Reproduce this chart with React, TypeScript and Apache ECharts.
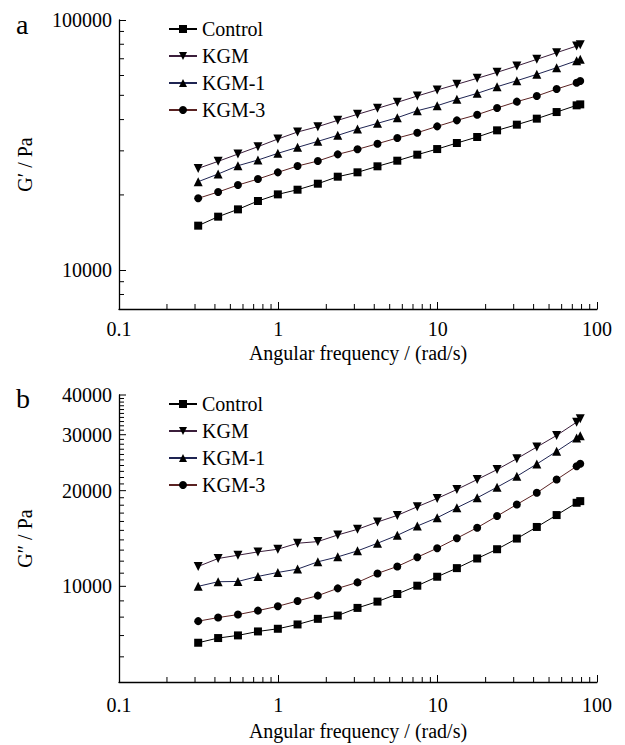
import React, { useEffect, useRef } from 'react';
import * as echarts from 'echarts';

const FONT = "'Times New Roman', 'Liberation Serif', serif";

const seriesNames = ['Control', 'KGM', 'KGM-1', 'KGM-3'];
const freq = [0.314, 0.419, 0.558, 0.745, 0.993, 1.32, 1.77, 2.36, 3.14, 4.19, 5.58, 7.45, 9.93, 13.2, 17.7, 23.6, 31.4, 41.9, 55.8, 74.5, 78.5];

// G' (Pa)
const gpControl = [15070, 16370, 17510, 18910, 20100, 20980, 22170, 23650, 24620, 26020, 27400, 28960, 30500, 32240, 34070, 36230, 38170, 40340, 42870, 45600, 46010];
const gpKGM = [25530, 27230, 29130, 31170, 33450, 35680, 37480, 39720, 41980, 44360, 46880, 49690, 52510, 55340, 58480, 61790, 65490, 69630, 74040, 78720, 79690];
const gpKGM1 = [22590, 24240, 26170, 27570, 29320, 30980, 32740, 34600, 36670, 38640, 40700, 43410, 45460, 48180, 50920, 54130, 57210, 60640, 64480, 68780, 69630];
const gpKGM3 = [19380, 20540, 21900, 23140, 24610, 26090, 27320, 29050, 30420, 32040, 33760, 35450, 37580, 39720, 41840, 44500, 47170, 49690, 52990, 56170, 57040];

// G'' (Pa)
const gppControl = [6645, 6875, 7008, 7212, 7353, 7587, 7902, 8092, 8553, 8953, 9460, 10046, 10720, 11410, 12235, 13085, 14135, 15375, 16760, 18320, 18540];
const gppKGM = [11550, 12235, 12530, 12835, 13085, 13665, 13830, 14510, 15115, 15935, 16720, 17800, 18900, 20170, 21680, 23300, 25220, 27440, 29840, 32850, 33650];
const gppKGM1 = [10000, 10340, 10360, 10745, 11060, 11330, 11945, 12380, 12930, 13665, 14475, 15480, 16440, 17670, 18990, 20510, 22200, 24260, 26590, 29270, 29770];
const gppKGM3 = [7770, 7975, 8150, 8387, 8655, 8995, 9348, 9855, 10290, 10980, 11550, 12350, 13180, 14170, 15295, 16640, 18100, 19690, 21680, 23860, 24320];

// axis ticks
const xMin = 0.1;
const xMax = 100;
const xMinorTicks = [0.2, 0.3, 0.4, 0.5, 0.6, 0.7, 0.8, 0.9, 2, 3, 4, 5, 6, 7, 8, 9, 20, 30, 40, 50, 60, 70, 80, 90];
const gpMin = 7000;
const gpMax = 100000;
const gpMinorTicks = [8000, 9000, 20000, 30000, 40000, 50000, 60000, 70000, 80000, 90000];
const gppMin = 5000;
const gppMax = 40000;
const gppMajorTicks = [10000, 20000, 30000, 40000];
const gppMinorTicks = [6000, 7000, 8000, 9000, 11000, 12000, 13000, 14000, 15000, 16000, 17000, 18000, 19000, 21000, 22000, 23000, 24000, 25000, 26000, 27000, 28000, 29000, 31000, 32000, 33000, 34000, 35000, 36000, 37000, 38000, 39000];

const lineColors = ['#000000', '#3b1e3b', '#1e2452', '#5a2222'];
const symbols = ['rect', 'triangle', 'triangle', 'circle'];
const symbolRotates = [0, 180, 0, 0];
const symbolSizes = [8, 9, 9, 8];

const MAJOR = 7;
const MINOR = 5;

function isPow10(v: number) {
  const l = Math.log10(v);
  return Math.abs(l - Math.round(l)) < 1e-6;
}

function fmt(v: number) {
  if (!isPow10(v)) return '';
  return v < 1 ? v.toFixed(1) : String(Math.round(v));
}

function lineSeries(grid: number, values: number[][]) {
  return values.map((vals, k) => ({
    name: seriesNames[k],
    type: 'line',
    xAxisIndex: grid,
    yAxisIndex: grid,
    data: freq.map((f, i) => [f, vals[i]]),
    symbol: symbols[k],
    symbolRotate: symbolRotates[k],
    symbolSize: symbolSizes[k],
    showAllSymbol: true,
    itemStyle: { color: '#000' },
    lineStyle: { color: lineColors[k], width: 1 },
    z: 3,
  }));
}

function tickSeries(grid: number, data: number[][], dir: 'x' | 'y', len: number) {
  return {
    type: 'custom',
    xAxisIndex: grid,
    yAxisIndex: grid,
    silent: true,
    clip: false,
    data,
    z: 2,
    renderItem: (_p: any, api: any) => {
      const p = api.coord([api.value(0), api.value(1)]);
      const shape = dir === 'x'
        ? { x1: p[0], y1: p[1], x2: p[0], y2: p[1] - len }
        : { x1: p[0], y1: p[1], x2: p[0] + len, y2: p[1] };
      return { type: 'line', shape, style: { stroke: '#000', lineWidth: 1 } };
    },
  };
}

function yLabelSeries(grid: number, data: number[][]) {
  return {
    type: 'custom',
    xAxisIndex: grid,
    yAxisIndex: grid,
    silent: true,
    clip: false,
    data,
    z: 2,
    renderItem: (_p: any, api: any) => {
      const v = api.value(1);
      const p = api.coord([api.value(0), v]);
      return {
        type: 'group',
        children: [
          { type: 'line', shape: { x1: p[0], y1: p[1], x2: p[0] + MAJOR, y2: p[1] }, style: { stroke: '#000', lineWidth: 1 } },
          {
            type: 'text',
            x: p[0] - 7,
            y: p[1],
            style: { text: String(v), align: 'right', verticalAlign: 'middle', fontSize: 20, fontFamily: FONT, fill: '#000' },
          },
        ],
      };
    },
  };
}

export default function App() {
  const ref = useRef<HTMLDivElement>(null);

  useEffect(() => {
    if (!ref.current) return;
    const chart = echarts.init(ref.current, undefined, { renderer: 'svg' });

    const axisLine = { show: true, lineStyle: { color: '#000', width: 1.3 } };
    const xAxisBase = {
      type: 'log',
      logBase: 10,
      min: xMin,
      max: xMax,
      axisLine,
      axisTick: { show: true, inside: true, length: MAJOR, lineStyle: { color: '#000', width: 1 } },
      splitLine: { show: false },
      name: 'Angular frequency / (rad/s)',
      nameLocation: 'middle',
      nameTextStyle: { fontSize: 20, fontFamily: FONT, color: '#000' },
    };

    const legendBase = {
      data: seriesNames,
      orient: 'vertical',
      left: 163,
      itemWidth: 28,
      itemHeight: 10,
      itemGap: 7,
      textStyle: { fontSize: 20, fontFamily: FONT, color: '#000' },
    };

    const option: any = {
      animation: false,
      backgroundColor: '#fff',
      textStyle: { fontFamily: FONT },
      grid: [
        { left: 119, top: 20, width: 478, height: 289, containLabel: false },
        { left: 119, top: 395, width: 478, height: 287, containLabel: false },
      ],
      legend: [
        { ...legendBase, top: 14 },
        { ...legendBase, top: 389 },
      ],
      xAxis: [
        {
          ...xAxisBase,
          gridIndex: 0,
          nameGap: 34,
          axisLabel: { formatter: fmt, fontSize: 20, fontFamily: FONT, color: '#000', margin: 10 },
        },
        {
          ...xAxisBase,
          gridIndex: 1,
          nameGap: 39,
          axisLabel: { formatter: fmt, fontSize: 20, fontFamily: FONT, color: '#000', margin: 13 },
        },
      ],
      yAxis: [
        {
          gridIndex: 0,
          type: 'log',
          logBase: 10,
          min: gpMin,
          max: gpMax,
          axisLine,
          axisTick: { show: true, inside: true, length: MAJOR, lineStyle: { color: '#000', width: 1 } },
          axisLabel: { formatter: fmt, fontSize: 20, fontFamily: FONT, color: '#000', margin: 7 },
          splitLine: { show: false },
          name: 'G\u2032 / Pa',
          nameLocation: 'middle',
          nameRotate: 90,
          nameGap: 84,
          nameTextStyle: { fontSize: 20, fontFamily: FONT, color: '#000' },
        },
        {
          gridIndex: 1,
          type: 'log',
          logBase: 10,
          min: gppMin,
          max: gppMax,
          axisLine,
          axisTick: { show: false },
          axisLabel: { show: false },
          splitLine: { show: false },
          name: 'G\u2033 / Pa',
          nameLocation: 'middle',
          nameRotate: 90,
          nameGap: 84,
          nameTextStyle: { fontSize: 20, fontFamily: FONT, color: '#000' },
        },
      ],
      graphic: [
        { type: 'text', left: 16, top: 10, style: { text: 'a', fontSize: 28, fontFamily: FONT, fill: '#000' } },
        { type: 'text', left: 16, top: 384, style: { text: 'b', fontSize: 28, fontFamily: FONT, fill: '#000' } },
      ],
      series: [
        ...lineSeries(0, [gpControl, gpKGM, gpKGM1, gpKGM3]),
        ...lineSeries(1, [gppControl, gppKGM, gppKGM1, gppKGM3]),
        tickSeries(0, xMinorTicks.map((v) => [v, gpMin]), 'x', MINOR),
        tickSeries(1, xMinorTicks.map((v) => [v, gppMin]), 'x', MINOR),
        tickSeries(0, gpMinorTicks.map((v) => [xMin, v]), 'y', MINOR),
        tickSeries(1, gppMinorTicks.map((v) => [xMin, v]), 'y', MINOR),
        yLabelSeries(1, gppMajorTicks.map((v) => [xMin, v])),
      ],
    };

    chart.setOption(option);
    return () => chart.dispose();
  }, []);

  return (
    <div
      ref={ref}
      style={{ position: 'fixed', left: 0, top: 0, width: 625, height: 745, background: '#fff' }}
    />
  );
}
